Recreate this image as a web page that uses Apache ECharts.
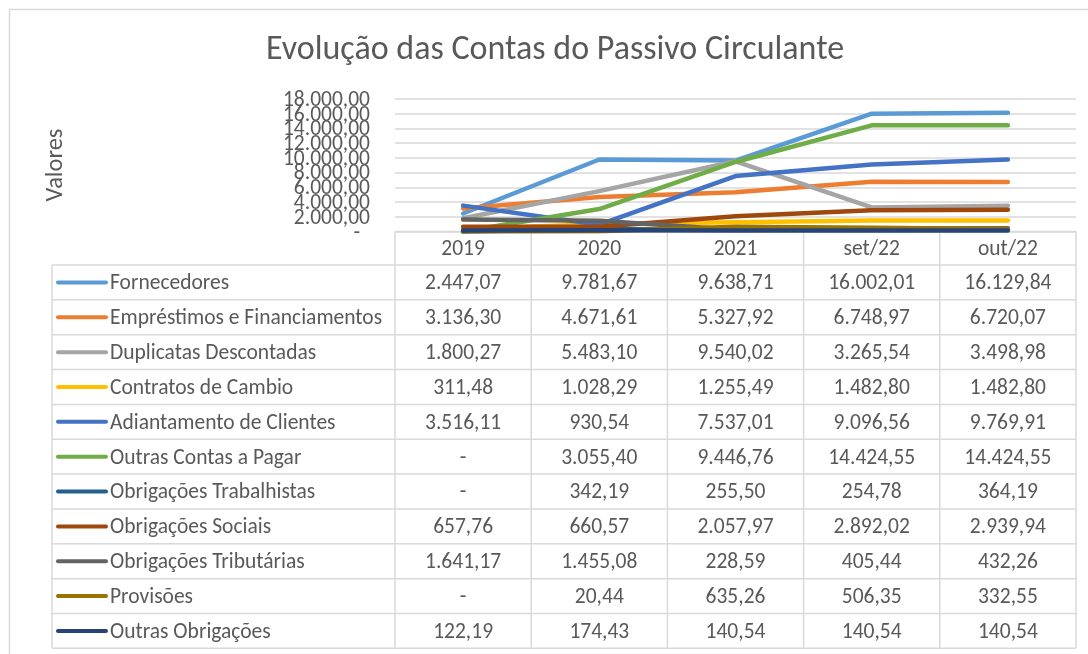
<!DOCTYPE html>
<html>
<head>
<meta charset="utf-8">
<script src="https://cdn.jsdelivr.net/npm/echarts@6/dist/echarts.min.js"></script>
<style>
html,body{margin:0;padding:0;background:#fff;}
#c{width:1088px;height:654px;}
</style>
</head>
<body>
<div id="c"></div>
<script>
const title = 'Evolução das Contas do Passivo Circulante';
const categories = ['2019', '2020', '2021', 'set/22', 'out/22'];
const seriesNames = [
  'Fornecedores',
  'Empréstimos e Financiamentos',
  'Duplicatas Descontadas',
  'Contratos de Cambio',
  'Adiantamento de Clientes',
  'Outras Contas a Pagar',
  'Obrigações Trabalhistas',
  'Obrigações Sociais',
  'Obrigações Tributárias',
  'Provisões',
  'Outras Obrigações'
];
const fornecedores = [2447.07, 9781.67, 9638.71, 16002.01, 16129.84];
const emprestimos = [3136.30, 4671.61, 5327.92, 6748.97, 6720.07];
const duplicatas = [1800.27, 5483.10, 9540.02, 3265.54, 3498.98];
const contratos = [311.48, 1028.29, 1255.49, 1482.80, 1482.80];
const adiantamento = [3516.11, 930.54, 7537.01, 9096.56, 9769.91];
const outrasContas = [0, 3055.40, 9446.76, 14424.55, 14424.55];
const trabalhistas = [0, 342.19, 255.50, 254.78, 364.19];
const sociais = [657.76, 660.57, 2057.97, 2892.02, 2939.94];
const tributarias = [1641.17, 1455.08, 228.59, 405.44, 432.26];
const provisoes = [0, 20.44, 635.26, 506.35, 332.55];
const outrasObrigacoes = [122.19, 174.43, 140.54, 140.54, 140.54];
const seriesValues = [fornecedores, emprestimos, duplicatas, contratos, adiantamento,
  outrasContas, trabalhistas, sociais, tributarias, provisoes, outrasObrigacoes];
const colors = ['#5B9BD5', '#ED7D31', '#A5A5A5', '#FFC000', '#4472C4', '#70AD47',
  '#255E91', '#9E480E', '#636363', '#997300', '#264478'];
const yMin = 0, yMax = 18000, yStep = 2000;
const yTicks = [0, 2000, 4000, 6000, 8000, 10000, 12000, 14000, 16000, 18000];

const FONT = 'Carlito, Lato, "Open Sans", sans-serif';
const FS = 21.5;
const TXT = '#595959';
const GRID = '#d9d9d9';
const DY = 1.5;

function fmt(v) {
  if (v === 0) return '-';
  const parts = v.toFixed(2).split('.');
  parts[0] = parts[0].replace(/\B(?=(\d{3})+(?!\d))/g, '.');
  return parts[0] + ',' + parts[1];
}

// layout
const plotLeft = 395, plotRight = 1076, plotTop = 99, plotBottom = 231.5;
const tableLeft = 52, headerBottom = 265, rowH = 34.85;
const colW = (plotRight - plotLeft) / categories.length;
const nRows = seriesNames.length;
const tableBottom = headerBottom + rowH * nRows;

const graphics = [];
graphics.push({type: 'rect', shape: {x: 9.5, y: 9.5, width: 1200, height: 800},
  style: {fill: 'none', stroke: GRID, lineWidth: 1.5}, silent: true});
graphics.push({type: 'text', x: 555, y: 50.5,
  style: {text: title, fill: TXT, font: '34px ' + FONT, verticalAlign: 'middle', align: 'center'}});
graphics.push({type: 'line', shape: {x1: plotLeft, y1: plotBottom, x2: plotRight, y2: plotBottom},
  style: {stroke: GRID, lineWidth: 1.5}, z: 1});
for (let i = 0; i <= categories.length; i++) {
  const x = plotLeft + i * colW;
  graphics.push({type: 'line', shape: {x1: x, y1: plotBottom, x2: x, y2: tableBottom},
    style: {stroke: GRID, lineWidth: 1.5}});
}
graphics.push({type: 'line', shape: {x1: tableLeft, y1: headerBottom, x2: tableLeft, y2: tableBottom},
  style: {stroke: GRID, lineWidth: 1.5}});
for (let j = 0; j <= nRows; j++) {
  const y = headerBottom + j * rowH;
  graphics.push({type: 'line', shape: {x1: tableLeft, y1: y, x2: plotRight, y2: y},
    style: {stroke: GRID, lineWidth: 1.5}});
}
for (let j = 0; j < nRows; j++) {
  const cy = headerBottom + (j + 0.5) * rowH;
  graphics.push({type: 'line', shape: {x1: 58, y1: cy, x2: 106, y2: cy},
    style: {stroke: colors[j], lineWidth: 4, lineCap: 'round'}});
  graphics.push({type: 'text', x: 110, y: cy + DY,
    style: {text: seriesNames[j], fill: TXT, font: FS + 'px ' + FONT, verticalAlign: 'middle', align: 'left'}});
  for (let i = 0; i < categories.length; i++) {
    graphics.push({type: 'text', x: plotLeft + (i + 0.5) * colW, y: cy + DY,
      style: {text: fmt(seriesValues[j][i]), fill: TXT, font: FS + 'px ' + FONT, verticalAlign: 'middle', align: 'center'}});
  }
}
graphics.push({type: 'text', x: 56, y: 165, rotation: Math.PI / 2,
  style: {text: 'Valores', fill: TXT, font: '24.5px ' + FONT, verticalAlign: 'middle', align: 'center'}});

const chart = echarts.init(document.getElementById('c'), null, {renderer: 'canvas'});
chart.setOption({
  animation: false,
  backgroundColor: '#fff',
  grid: {left: plotLeft, right: 1088 - plotRight, top: plotTop, bottom: 654 - plotBottom},
  xAxis: {type: 'category', data: categories, boundaryGap: true,
    axisLine: {show: false}, axisTick: {show: false}, splitLine: {show: false},
    axisLabel: {show: false}},
  yAxis: {type: 'value', min: yMin, max: yMax, interval: yStep,
    axisLine: {show: false}, axisTick: {show: false},
    splitLine: {lineStyle: {color: GRID, width: 1.5}},
    axisLabel: {show: false}},
  series: seriesNames.map((n, k) => ({
    name: n, type: 'line', data: seriesValues[k], symbol: 'none',
    lineStyle: {color: colors[k], width: 4.5, cap: 'round', join: 'round'},
    itemStyle: {color: colors[k]}
  })),
  graphic: graphics
});

// axis labels placed through the chart's own scales
const extra = [];
yTicks.forEach(v => {
  const y = chart.convertToPixel({yAxisIndex: 0}, v);
  extra.push({type: 'text', x: v === 0 ? 360 : 370, y: y + (v === 0 ? 2.5 : DY),
    style: {text: fmt(v), fill: TXT, font: FS + 'px ' + FONT, verticalAlign: 'middle', align: 'right'}});
});
categories.forEach((c, i) => {
  const x = chart.convertToPixel({xAxisIndex: 0}, c);
  extra.push({type: 'text', x: x, y: (plotBottom + headerBottom) / 2 + DY,
    style: {text: c, fill: TXT, font: FS + 'px ' + FONT, verticalAlign: 'middle', align: 'center'}});
});
chart.setOption({graphic: graphics.concat(extra)});
</script>
</body>
</html>
